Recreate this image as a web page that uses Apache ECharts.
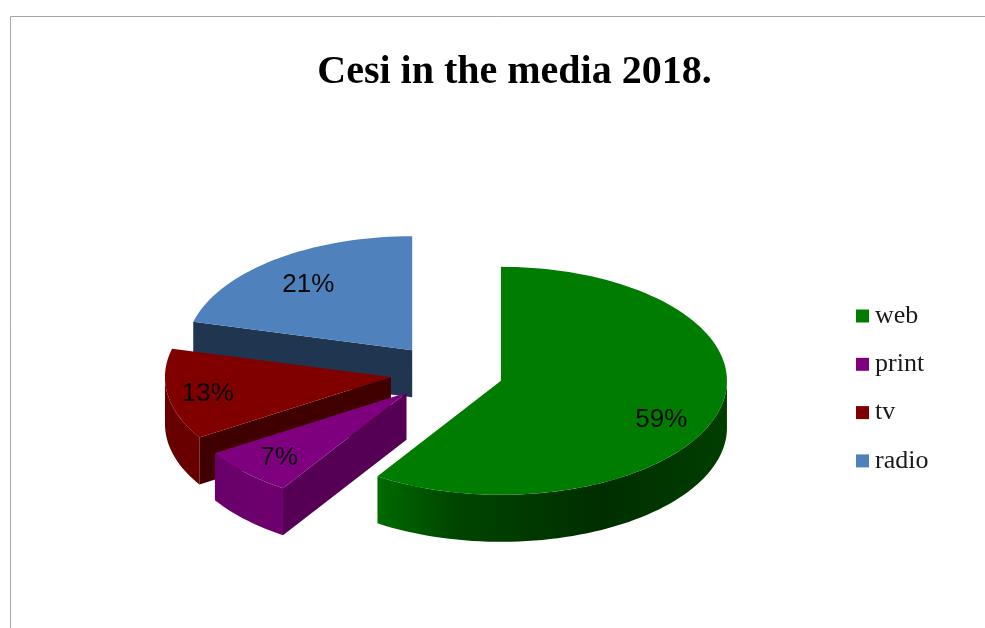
<!DOCTYPE html>
<html><head><meta charset="utf-8">
<style>html,body{margin:0;padding:0;background:#fff}#c{width:985px;height:628px}</style>
<script src="https://cdn.jsdelivr.net/npm/echarts@6/dist/echarts.min.js"></script>
</head><body><div id="c"></div>
<script>
const titleText = 'Cesi in the media 2018.';
const categories = ['web', 'print', 'tv', 'radio'];
const shares = [59.2, 6.9, 12.9, 21];

// Appearance and projection of the pie (layout only)
const topColors = ['#007c00', '#7f007f', '#800000', '#4f81bd'];
const faceColors = ['#004000', '#550055', '#400000', '#1f3550'];
const zBySlice = [4, 3, 2, 1];
const labelReach = [[0.74, 1.16], [0.79, 0.80], [0.82, 0.90], [0.75, 0.74]];
const labelDrop = 1.5;
const PIE = { cx: 446.8, cy: 372.7, rx: 226, ry: 114, depth: 47, explode: 0.25 };
const rimShade = [[0, 0.8], [0.22, 0.87], [0.4, 0.56], [0.72, 0.37], [1, 0.5]];

const total = shares.reduce((a, b) => a + b, 0);
const rad = d => d * Math.PI / 180;
const bounds = [];
shares.reduce((acc, v, i) => { bounds[i] = [acc, acc + v / total * 360]; return acc + v / total * 360; }, 0);

function shadeHex(hex, k) {
  const n = parseInt(hex.slice(1), 16);
  const c = s => Math.round(((n >> s) & 255) * k);
  return 'rgb(' + c(16) + ',' + c(8) + ',' + c(0) + ')';
}
function rimPoints(ox, oy, a0, a1, dz) {
  const pts = [], n = Math.max(2, Math.ceil((a1 - a0) / 2));
  for (let i = 0; i <= n; i++) {
    const a = rad(a0 + (a1 - a0) * i / n);
    pts.push([ox + PIE.rx * Math.sin(a), oy - PIE.ry * Math.cos(a) + dz]);
  }
  return pts;
}
function renderSlice(i) {
  const [a0, a1] = bounds[i];
  const mid = rad((a0 + a1) / 2);
  const ox = PIE.cx + PIE.explode * PIE.rx * Math.sin(mid);
  const oy = PIE.cy - PIE.explode * PIE.ry * Math.cos(mid);
  const kids = [];
  const face = a => {
    const r = rad(a);
    const ex = ox + PIE.rx * Math.sin(r), ey = oy - PIE.ry * Math.cos(r);
    kids.push({ type: 'polygon', shape: { points: [[ox, oy], [ex, ey], [ex, ey + PIE.depth], [ox, oy + PIE.depth]] },
      style: { fill: faceColors[i] } });
  };
  if (Math.sin(rad(a0)) < -1e-6) face(a0);
  if (Math.sin(rad(a1)) > 1e-6) face(a1);
  const r0 = Math.max(a0, 90), r1 = Math.min(a1, 270);
  if (r1 > r0) {
    const top = rimPoints(ox, oy, r0, r1, 0), bot = rimPoints(ox, oy, r0, r1, PIE.depth).reverse();
    kids.push({ type: 'polygon', shape: { points: top.concat(bot) },
      style: { fill: new echarts.graphic.LinearGradient(ox - PIE.rx, 0, ox + PIE.rx, 0,
        rimShade.map(s => ({ offset: s[0], color: shadeHex(topColors[i], s[1]) })), true) } });
  }
  kids.push({ type: 'polygon', shape: { points: [[ox, oy]].concat(rimPoints(ox, oy, a0, a1, 0)) },
    style: { fill: topColors[i] } });
  kids.push({ type: 'text', z2: 10, style: {
    text: Math.round(shares[i] / total * 100) + '%',
    x: ox + labelReach[i][0] * PIE.rx * Math.sin(mid),
    y: oy - labelReach[i][1] * PIE.ry * Math.cos(mid) + labelDrop,
    align: 'center', verticalAlign: 'middle',
    font: '26px "Liberation Sans"', fill: '#0a0a0a' } });
  return { type: 'group', children: kids };
}

const chart = echarts.init(document.getElementById('c'), null, { renderer: 'canvas' });
chart.setOption({
  animation: false,
  backgroundColor: '#fff',
  title: { text: titleText, left: 509.5, top: 48, textAlign: 'center',
    textStyle: { fontFamily: 'Liberation Serif', fontWeight: 'bold', fontSize: 40, color: '#000' } },
  legend: { orient: 'vertical', left: 851, top: 298, icon: 'rect', itemWidth: 13, itemHeight: 13, itemGap: 22.3,
    selectedMode: false, data: categories,
    textStyle: { fontFamily: 'Liberation Serif', fontSize: 26, lineHeight: 25, color: '#1a1a1a', padding: [0, 0, 0, 1] } },
  tooltip: { show: false },
  graphic: [{ type: 'polyline', silent: true,
    shape: { points: [[10.5, 628], [10.5, 16.5], [985, 16.5]] },
    style: { fill: null, stroke: '#a6a6a6', lineWidth: 1 } }],
  series: categories.map((name, i) => ({
    type: 'custom', name, coordinateSystem: 'none', z: zBySlice[i], silent: true,
    itemStyle: { color: topColors[i] },
    data: [shares[i]],
    renderItem: () => renderSlice(i)
  }))
});
</script></body></html>
